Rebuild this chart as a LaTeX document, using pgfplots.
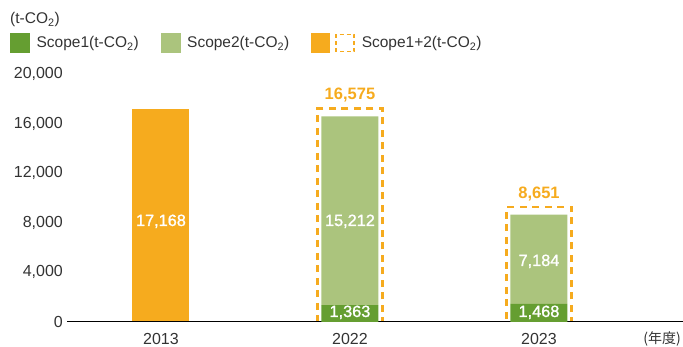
\documentclass[border=0pt]{standalone}
\usepackage{pgfplots}
\pgfplotsset{compat=1.18}
\usepackage{fontspec}
\setmainfont{Liberation Sans}
\newfontfamily\medfont[FakeBold=1.2]{Liberation Sans}
\newfontfamily\cjk{Noto Sans CJK JP}
\definecolor{sone}{HTML}{659E31}
\definecolor{stwo}{HTML}{ABC47D}
\definecolor{sor}{HTML}{F6AB1E}
\definecolor{txt}{HTML}{333333}
\tikzset{wlab/.style={anchor=base, inner sep=0pt, text=white, font=\fontsize{16.3}{19}\selectfont\medfont}}
\begin{document}
\begin{tikzpicture}[x=1pt,y=1pt]
\useasboundingbox (0,0) rectangle (683,347);
\pgfplotsset{
  base/.style={scale only axis, width=616pt, height=248pt, at={(67pt,25pt)}, anchor=south west,
    xmin=-0.497, xmax=2.762, ymin=0, ymax=20000, enlargelimits=false},
}
% overlay: Scope1+2 totals (2013 bar and dashed boxes) + legend
\begin{axis}[base, axis lines=none, ybar, clip=true,
  legend style={at={(-0.0925,1.125)}, anchor=west, draw=none, fill=none, inner sep=0pt,
    legend columns=-1, font=\fontsize{15.5}{18}\selectfont, text=txt,
    nodes={inner sep=0pt, anchor=west},
    /tikz/every odd column/.append style={column sep=7pt},
    /tikz/every even column/.append style={column sep=22pt}},
  ]
\addplot[fill=sor, draw=none, bar width=57pt, bar shift=0pt, forget plot] coordinates {(0,17168)};
\addplot[draw=sor, fill=none, bar width=65pt, bar shift=0pt, line width=2.6pt,
  dash pattern=on 7pt off 5.5pt, y filter/.expression={y+630},
  point meta=explicit symbolic, nodes near coords,
  nodes near coords style={anchor=base, inner sep=0pt, yshift=8.8pt, text=sor,
    font=\fontsize{16.5}{19}\selectfont\bfseries}, forget plot]
  coordinates {(1,16575) [16,575] (2,8651) [8,651]};
\addlegendimage{legend image code/.code={\fill[sone] (0pt,-9.5pt) rectangle (19pt,9.5pt);}}
\addlegendentry{Scope1(t-CO\textsubscript{2})}
\addlegendimage{legend image code/.code={\fill[stwo] (0pt,-9.5pt) rectangle (19pt,9.5pt);}}
\addlegendentry{Scope2(t-CO\textsubscript{2})}
\addlegendimage{legend image code/.code={\fill[sor] (0pt,-9.5pt) rectangle (18pt,9.5pt);
  \draw[sor, line width=1.5pt, dash pattern=on 4pt off 3pt] (24.5pt,-8.7pt) rectangle (42.5pt,8.7pt);}}
\addlegendentry{Scope1+2(t-CO\textsubscript{2})}
\end{axis}
% main: stacked Scope1 / Scope2
\begin{axis}[base, clip=false, ybar stacked, bar width=57pt,
  axis x line*=bottom, axis y line*=left,
  y axis line style={draw=none}, x axis line style={line width=1pt, color=black, -},
  major tick length=0pt, scaled y ticks=false,
  xtick={0,1,2}, xticklabels={2013,2022,2023},
  ytick={0,4000,8000,12000,16000,20000},
  yticklabels={0,{4,000},{8,000},{12,000},{16,000},{20,000}},
  tick label style={text=txt, font=\fontsize{16}{19}\selectfont},
  xticklabel style={anchor=north, inner sep=0pt, yshift=-11.5pt},
  yticklabel style={anchor=east, inner sep=0pt, xshift=-4pt},
  ]
\addplot[fill=sone, draw=none] coordinates {(1,1363) (2,1468)};
\addplot[fill=stwo, draw=none] coordinates {(1,15212) (2,7184)};
\end{axis}
% labels on top of the bars
\begin{axis}[base, axis lines=none, clip=false]
\node[wlab] at (axis cs:0,7742) {17,168};
\node[wlab] at (axis cs:1,7742) {15,212};
\node[wlab] at (axis cs:1,403) {1,363};
\node[wlab] at (axis cs:2,4516) {7,184};
\node[wlab] at (axis cs:2,403) {1,468};
\end{axis}
\node[anchor=base west, inner sep=0pt, text=txt, font=\fontsize{15.5}{18}\selectfont] at (10,323) {(t-CO\textsubscript{2})};
\node[anchor=east, inner sep=0pt, text=txt, font=\fontsize{14}{17}\selectfont\cjk] at (681,8.5) {(年度)};
\end{tikzpicture}
\end{document}
